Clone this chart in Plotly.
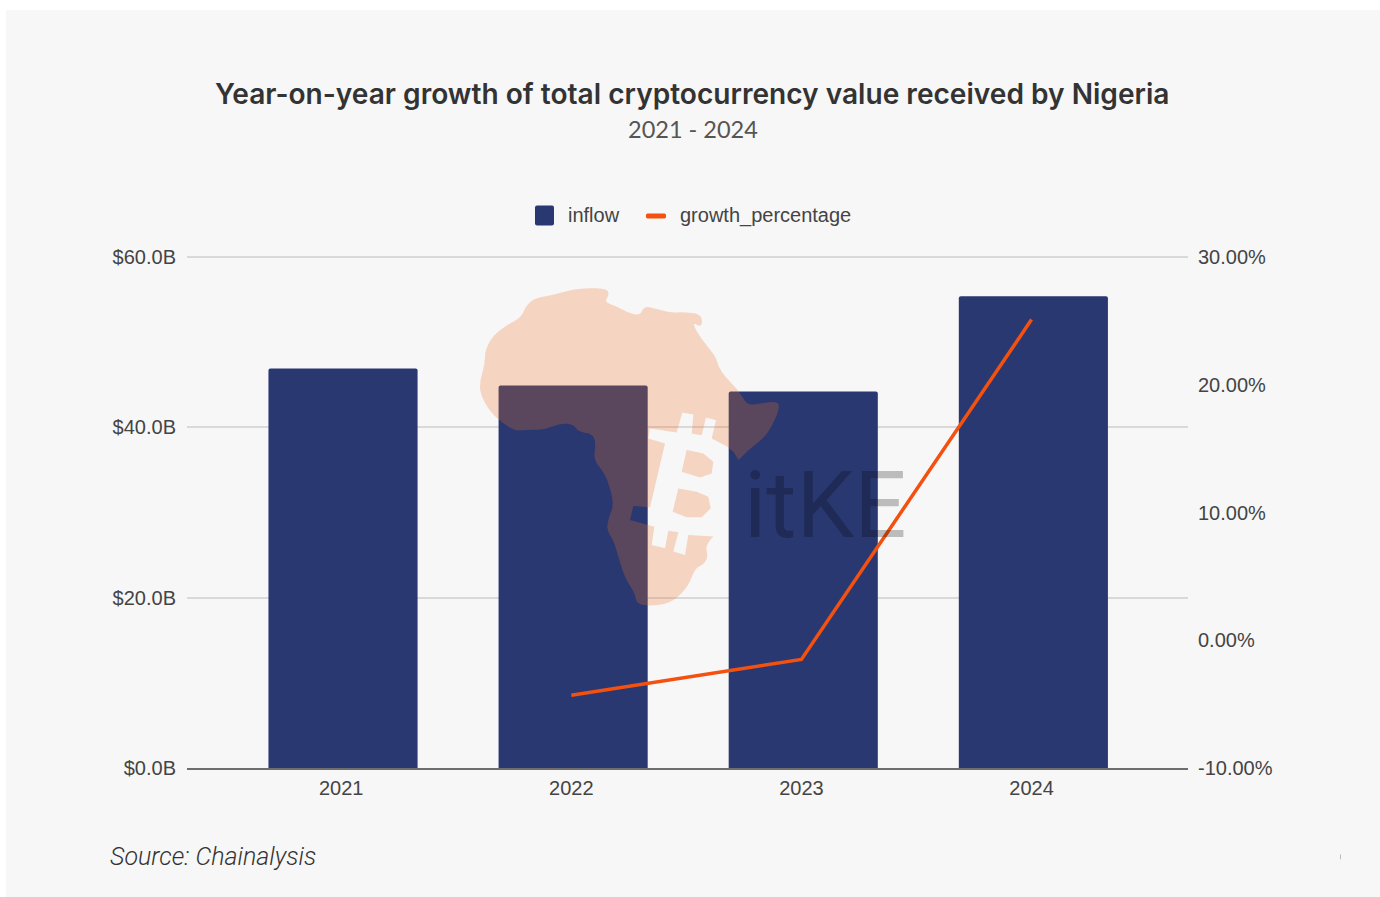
import plotly.graph_objects as go

# Annual figures for Nigeria
years = ["2021", "2022", "2023", "2024"]
inflow_billion = [46.9, 44.9, 44.2, 55.4]
growth_percentage = [None, -4.3, -1.5, 25.1]

inflow_ticks = [0, 20, 40, 60]
inflow_tick_labels = ["$0.0B", "$20.0B", "$40.0B", "$60.0B"]
growth_ticks = [-10, 0, 10, 20, 30]
growth_tick_labels = ["-10.00%", "0.00%", "10.00%", "20.00%", "30.00%"]

title_text = "Year-on-year growth of total cryptocurrency value received by Nigeria"
subtitle_text = "2021 - 2024"
source_text = "Source: Chainalysis"
inflow_name = "inflow"
growth_name = "growth_percentage"

# Page geometry of the plotting area, in pixels
W, H = 1380, 897
LEFT, RIGHT, TOP, BOTTOM = 187, 1188, 256.5, 768.5


def px(x):
    return (x - LEFT) / (RIGHT - LEFT)


def py(y):
    return 1 - (y - TOP) / (BOTTOM - TOP)


# Logo outline, traced at 3x scale around an origin of (470, 270).
# Coast sections are curved; the coin's edge between them stays straight.
COAST_NORTH_EAST = [
    (300, 60), (350, 52), (410, 55), (418, 72), (403, 95), (440, 108), (470, 125), (510, 137),
    (522, 107), (560, 115), (600, 127), (640, 125), (690, 130), (698, 155), (690, 170), (668, 155),
    (680, 185), (710, 225), (738, 260), (745, 290), (770, 325), (800, 355), (820, 385), (835, 405),
    (870, 400), (928, 392), (925, 425), (905, 470), (880, 505), (840, 535), (806, 570),
]
COIN_EDGE = [
    (790, 545), (770, 528), (725, 505), (738, 450), (708, 442), (695, 495), (665, 490), (670, 433),
    (637, 427), (620, 487), (540, 475), (535, 505), (585, 520), (540, 712), (490, 708), (480, 750),
    (553, 770), (545, 825), (585, 835), (595, 782), (625, 787), (610, 845), (645, 855), (655, 795),
    (730, 800),
]
COAST_SOUTH_WEST = [
    (705, 825), (715, 860), (700, 885), (675, 895), (655, 950), (610, 995), (560, 1008), (500, 1005),
    (495, 970), (465, 925), (445, 860), (430, 810), (410, 780), (415, 745), (430, 710), (425, 670),
    (405, 610), (370, 570), (378, 515), (365, 490), (325, 485), (310, 462), (270, 460), (220, 480),
    (180, 478), (135, 483), (100, 460), (60, 425), (30, 370), (30, 330), (45, 280), (45, 240),
    (70, 195), (110, 165), (155, 140), (165, 110), (190, 85), (240, 75), (280, 65), (300, 60),
]
COUNTER_UPPER = [(650, 540), (700, 550), (730, 575), (725, 610), (690, 622), (635, 605)]
COUNTER_LOWER = [(625, 655), (680, 665), (715, 680), (722, 715), (695, 742), (650, 742), (608, 725)]


def logo_xy(point):
    x, y = point
    return f"{px(470 + x / 3):.5f},{py(270 + y / 3):.5f}"


def curved(points):
    # Quadratic segments through the midpoints, ending on the last point
    parts = []
    for a, b in zip(points[:-1], points[1:]):
        mid = ((a[0] + b[0]) / 2, (a[1] + b[1]) / 2)
        parts.append(f"Q {logo_xy(a)} {logo_xy(mid)}")
    parts.append(f"L {logo_xy(points[-1])}")
    return " ".join(parts)


def straight(points):
    return " ".join(f"L {logo_xy(p)}" for p in points)


def closed(points):
    return f"M {logo_xy(points[0])} " + straight(points[1:]) + " Z"


logo_path = " ".join([
    f"M {logo_xy(COAST_NORTH_EAST[0])}",
    curved(COAST_NORTH_EAST),
    straight(COIN_EDGE),
    curved(COAST_SOUTH_WEST),
    "Z",
    closed(COUNTER_UPPER),
    closed(COUNTER_LOWER),
])


def rounded_box(x0, y0, x1, y1, r):
    return (
        f"M {px(x0 + r):.5f},{py(y0):.5f} L {px(x1 - r):.5f},{py(y0):.5f} "
        f"Q {px(x1):.5f},{py(y0):.5f} {px(x1):.5f},{py(y0 + r):.5f} "
        f"L {px(x1):.5f},{py(y1 - r):.5f} "
        f"Q {px(x1):.5f},{py(y1):.5f} {px(x1 - r):.5f},{py(y1):.5f} "
        f"L {px(x0 + r):.5f},{py(y1):.5f} "
        f"Q {px(x0):.5f},{py(y1):.5f} {px(x0):.5f},{py(y1 - r):.5f} "
        f"L {px(x0):.5f},{py(y0 + r):.5f} "
        f"Q {px(x0):.5f},{py(y0):.5f} {px(x0 + r):.5f},{py(y0):.5f} Z"
    )


BAR_COLOR = "#293871"
LINE_COLOR = "#F4500F"
GRID_COLOR = "#D9D9D9"
BAR_WIDTH = 0.648

fig = go.Figure()
fig.add_bar(
    x=years,
    y=inflow_billion,
    name=inflow_name,
    marker=dict(color=BAR_COLOR, cornerradius=2, line_width=0),
    width=BAR_WIDTH,
    offset=-BAR_WIDTH / 2 + 0.008,
)
fig.add_scatter(
    x=years,
    y=growth_percentage,
    name=growth_name,
    yaxis="y2",
    mode="lines",
    line=dict(color=LINE_COLOR, width=3.5),
)

shapes = [
    # Light card behind the whole chart
    dict(type="rect", xref="paper", yref="paper", layer="below",
         x0=px(6), x1=px(W + 2), y0=py(9), y1=py(H + 2),
         fillcolor="#F7F7F7", line_width=0),
    # Top gridline, which sits on the edge of the plot and is not drawn by the axis
    dict(type="line", xref="paper", yref="paper", layer="below",
         x0=0, x1=1, y0=1, y1=1,
         line=dict(color=GRID_COLOR, width=2)),
    # Logo layered over the bars
    dict(type="path", xref="paper", yref="paper", layer="above", line_width=0,
         path=logo_path, fillcolor="rgba(240,112,36,0.25)"),
    # Legend keys
    dict(type="path", xref="paper", yref="paper", layer="above", line_width=0,
         path=rounded_box(535, 205, 554, 225, 2), fillcolor=BAR_COLOR),
    dict(type="path", xref="paper", yref="paper", layer="above", line_width=0,
         path=rounded_box(646, 213, 666, 218, 1.5), fillcolor=LINE_COLOR),
    dict(type="line", xref="paper", yref="paper", layer="above",
         x0=px(1340.5), x1=px(1340.5), y0=py(855), y1=py(860),
         line=dict(color="#BBBBBB", width=1)),
]

legend_font = dict(family="Liberation Sans", size=20, color="#444444")
annotations = [
    dict(text=title_text, x=px(692), y=py(93.5), xanchor="center", yanchor="middle",
         font=dict(family="Inter", size=28.1, color="#333333", weight=600)),
    dict(text=subtitle_text, x=px(693), y=py(128.5), xanchor="center", yanchor="middle",
         font=dict(family="Lato", size=23.5, color="#555555")),
    dict(text=source_text, x=px(108), y=py(857.5), xanchor="left", yanchor="middle",
         font=dict(family="Roboto", size=25, color="#333333", style="italic", weight=300)),
    dict(text="itKE", x=px(742), y=py(505.5), xanchor="left", yanchor="middle",
         font=dict(family="Roboto", size=92, color="rgba(0,0,0,0.24)", weight=400)),
    dict(text=inflow_name, x=px(566), y=py(214.5), xanchor="left", yanchor="middle", font=legend_font),
    dict(text=growth_name, x=px(678), y=py(214.5), xanchor="left", yanchor="middle", font=legend_font),
]
for a in annotations:
    a.update(xref="paper", yref="paper", showarrow=False)

tick_font = dict(family="Liberation Sans", size=20, color="#444444")

fig.update_layout(
    width=W,
    height=H,
    margin=dict(l=LEFT, r=W - RIGHT, t=TOP, b=H - BOTTOM, autoexpand=False),
    paper_bgcolor="#FFFFFF",
    plot_bgcolor="rgba(0,0,0,0)",
    showlegend=False,
    xaxis=dict(
        range=[-0.67, 3.68],
        tickfont=tick_font,
        showgrid=False,
        showline=True,
        linecolor="#6E6E6E",
        linewidth=2,
        ticks="",
        ticklabelstandoff=1,
    ),
    yaxis=dict(
        range=[0, 60],
        tickmode="array",
        tickvals=inflow_ticks,
        ticktext=inflow_tick_labels,
        tickfont=tick_font,
        gridcolor=GRID_COLOR,
        gridwidth=1.5,
        zeroline=False,
        ticks="",
        ticklabelstandoff=10,
    ),
    yaxis2=dict(
        overlaying="y",
        side="right",
        range=[-10, 30],
        tickmode="array",
        tickvals=growth_ticks,
        ticktext=growth_tick_labels,
        tickfont=tick_font,
        showgrid=False,
        zeroline=False,
        ticks="",
        ticklabelstandoff=9,
    ),
    shapes=shapes,
    annotations=annotations,
)

fig.write_html("out.html")
